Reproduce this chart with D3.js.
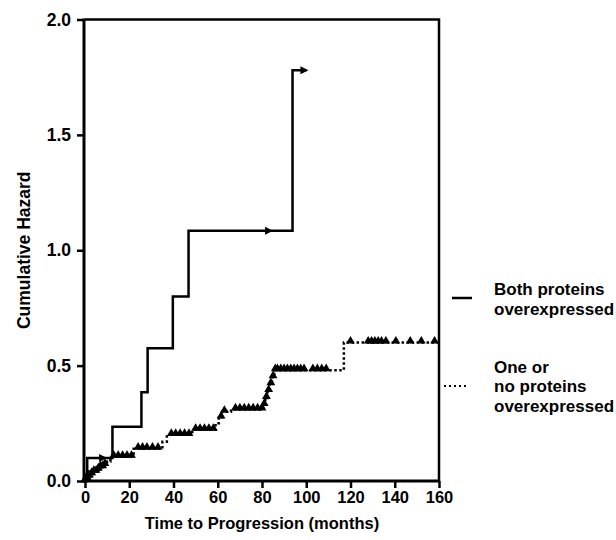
<!DOCTYPE html>
<html>
<head>
<meta charset="utf-8">
<script src="https://cdn.jsdelivr.net/npm/d3@7"></script>
<style>
  body { margin: 0; background: #fff; }
  svg { display: block; }
  text { font-family: "Liberation Sans", Arial, sans-serif; font-weight: bold; fill: #000; }
</style>
</head>
<body>
<div class="graph"></div>
<script>
const w = 616;
const h = 540;
const margin = {top: 19, right: 176, bottom: 59, left: 84};

// Both proteins overexpressed: event times (months) and cumulative hazard after each
const bothTimes = [1, 12.4, 25.5, 28.3, 39.7, 46.8, 93.8];
const bothHazard = [0.10, 0.235, 0.385, 0.575, 0.80, 1.085, 1.78];
const bothCensored = [10, 85, 101];
const bothEnd = 101;

// One or no proteins overexpressed
const oneTimes = [0.5, 1.5, 2.5, 4, 5.5, 7, 8.5, 10, 11.5, 22, 35, 37, 48.5, 59, 60.5, 62, 66, 80.5, 81.5, 82.5, 83.5, 84.5, 85.5, 117];
const oneHazard = [0.01, 0.02, 0.03, 0.04, 0.05, 0.06, 0.07, 0.085, 0.105, 0.14, 0.17, 0.20, 0.222, 0.25, 0.275, 0.30, 0.31, 0.33, 0.36, 0.39, 0.42, 0.45, 0.48, 0.60];
const oneCensored = [0, 0.5, 1, 1.5, 2, 3, 4, 5, 6, 7, 8, 9,
  13, 15, 17, 19, 21, 24, 26, 28, 30.5, 33,
  39, 41, 43, 45, 47, 50, 52, 54, 56, 58, 61.5, 63,
  68, 70, 72, 74, 76, 78, 80, 81, 82, 83, 84, 85, 86,
  87, 88.5, 90, 91.5, 93, 94.5, 96, 97.5, 99, 103, 105, 107, 109,
  120, 128, 129.5, 131, 132.5, 134, 136, 140.5, 147, 152, 158];
const oneEnd = 160;

const xTicks = [0, 20, 40, 60, 80, 100, 120, 140, 160];
const yTicks = [0, 0.5, 1.0, 1.5, 2.0];

const canvas = d3.select(".graph")
  .append("svg")
  .attr("width", w)
  .attr("height", h);

const xScale = d3.scaleLinear().domain([0, 160]).range([margin.left + 1, w - margin.right - 1]);
const yScale = d3.scaleLinear().domain([0, 2]).range([h - margin.bottom - 0, margin.top + 0.5]);

// step helpers
function steps(times, hazard, end) {
  const pts = [[0, 0]];
  times.forEach((t, i) => pts.push([t, hazard[i]]));
  pts.push([end, hazard[hazard.length - 1]]);
  return pts;
}
function hazardAt(times, hazard, t) {
  let v = 0;
  times.forEach((tt, i) => { if (tt <= t) v = hazard[i]; });
  return v;
}

const line = d3.line()
  .x(d => xScale(d[0]))
  .y(d => yScale(d[1]))
  .curve(d3.curveStepAfter);

// frame (top and right)
canvas.append("path")
  .attr("d", `M${xScale(0)},${yScale(2)}H${xScale(160)}V${yScale(0)}`)
  .attr("fill", "none")
  .attr("stroke", "#000")
  .attr("stroke-width", 2.5);

// axes
const yAxis = d3.axisLeft(yScale)
  .tickValues(yTicks)
  .tickFormat(d3.format(".1f"))
  .tickSize(7)
  .tickSizeOuter(0)
  .tickPadding(6);

const xAxis = d3.axisBottom(xScale)
  .tickValues(xTicks)
  .tickSize(7)
  .tickSizeOuter(0)
  .tickPadding(3);

const gy = canvas.append("g")
  .attr("transform", `translate(${margin.left}, 0)`)
  .call(yAxis);
const gx = canvas.append("g")
  .attr("transform", `translate(0, ${h - margin.bottom})`)
  .call(xAxis);

[gx, gy].forEach(g => {
  g.select(".domain").attr("stroke-width", 3);
  g.selectAll(".tick line").attr("stroke-width", 2.5);
  g.selectAll(".tick text").style("font-family", "'Liberation Sans', Arial, sans-serif").style("font-weight", "bold");
});
gx.selectAll(".tick text").style("font-size", "16.5px");
gy.selectAll(".tick text").style("font-size", "17.5px");
gy.select(".domain").attr("d", `M0,${yScale(0) + 1.5}V${yScale(2) - 1}`);
gx.select(".domain").attr("d", `M${xScale(0) - 1.5},0H${xScale(160) + 1}`);

// axis titles
canvas.append("text")
  .attr("transform", `translate(30, ${(yScale(0) + yScale(2)) / 2}) rotate(-90)`)
  .attr("text-anchor", "middle")
  .style("font-size", "17.5px")
  .text("Cumulative Hazard");

canvas.append("text")
  .attr("x", (xScale(0) + xScale(160)) / 2)
  .attr("y", 529)
  .attr("text-anchor", "middle")
  .style("font-size", "16.5px")
  .text("Time to Progression (months)");

// dotted curve: one or no proteins
canvas.append("path")
  .attr("d", line(steps(oneTimes, oneHazard, oneEnd)))
  .attr("fill", "none")
  .attr("stroke", "#000")
  .attr("stroke-width", 2.5)
  .attr("stroke-dasharray", "2.5,2.5");

canvas.selectAll(".cens-one")
  .data(oneCensored)
  .enter().append("path")
  .attr("class", "cens-one")
  .attr("d", d3.symbol().type(d3.symbolTriangle).size(34))
  .attr("transform", d => `translate(${xScale(d)}, ${yScale(hazardAt(oneTimes, oneHazard, d)) - 1.5})`)
  .attr("fill", "#000");

// solid curve: both proteins
canvas.append("path")
  .attr("d", line(steps(bothTimes, bothHazard, bothEnd - 1)))
  .attr("fill", "none")
  .attr("stroke", "#000")
  .attr("stroke-width", 2.5);

canvas.selectAll(".cens-both")
  .data(bothCensored)
  .enter().append("path")
  .attr("class", "cens-both")
  .attr("d", d => {
    const x = xScale(d), y = yScale(hazardAt(bothTimes, bothHazard, d));
    return `M${x - 8},${y - 4}L${x},${y}L${x - 8},${y + 4}Z`;
  })
  .attr("fill", "#000");

// legend
const legend = canvas.append("g");
legend.append("line")
  .attr("x1", 452).attr("x2", 472).attr("y1", 298).attr("y2", 298)
  .attr("stroke", "#000").attr("stroke-width", 2.5);
legend.append("line")
  .attr("x1", 444).attr("x2", 468).attr("y1", 386).attr("y2", 386)
  .attr("stroke", "#000").attr("stroke-width", 2)
  .attr("stroke-dasharray", "2,3");

const legendLines = [
  {text: "Both proteins", y: 295},
  {text: "overexpressed", y: 315},
  {text: "One or", y: 373},
  {text: "no proteins", y: 392},
  {text: "overexpressed", y: 412}
];
legend.selectAll("text")
  .data(legendLines)
  .enter().append("text")
  .attr("x", 494)
  .attr("y", d => d.y)
  .style("font-size", "17px")
  .text(d => d.text);
</script>
</body>
</html>
